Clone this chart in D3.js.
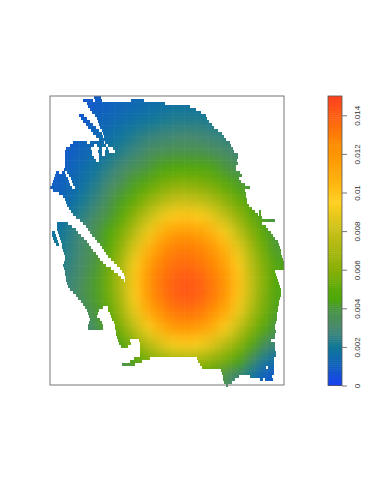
<!DOCTYPE html>
<html>
<head>
<meta charset="utf-8">
<style>
body { margin: 0; background: #fff; }
svg { display: block; }
.axis text { font-family: "Liberation Sans", sans-serif; font-size: 8px; fill: #333; }
.axis path, .axis line { stroke: #777; }
</style>
<script src="https://cdnjs.cloudflare.com/ajax/libs/d3/7.8.5/d3.min.js"></script>
</head>
<body>
<script>
// surface values, in units of 0.0001, one row per 16 km going south
var surface = [
[3,6,7,9,10,12,13,15,16,17,18,17,16,15,13,11,9,7],
[4,6,8,11,13,15,17,19,21,23,23,23,21,20,17,14,12,9],
[6,8,11,13,16,19,23,26,28,29,30,29,28,26,23,19,15,12],
[7,9,12,15,20,24,28,32,35,37,37,37,34,32,29,25,20,15],
[8,11,15,19,25,30,35,40,44,46,47,46,44,40,35,31,26,21],
[9,13,17,23,30,36,43,50,56,60,61,59,56,50,43,37,31,25],
[11,15,21,27,35,43,52,62,71,78,79,77,71,62,53,44,36,30],
[14,20,25,32,40,50,63,77,89,97,99,96,88,77,64,52,42,34],
[18,24,30,36,45,58,74,90,106,115,117,114,105,93,77,60,47,37],
[20,25,31,38,50,65,85,104,120,128,130,127,119,105,88,69,53,41],
[22,26,32,40,54,71,93,113,128,134,136,133,126,114,96,74,58,44],
[24,28,34,42,56,74,98,118,132,139,142,139,131,119,100,78,59,45],
[24,28,36,42,55,73,96,117,131,139,142,139,131,118,99,77,58,44],
[20,25,32,40,51,69,89,108,123,131,133,131,122,109,91,71,55,43],
[15,21,28,35,45,59,77,93,107,117,119,116,107,94,78,61,47,36],
[11,16,24,31,39,48,61,74,86,94,97,94,86,75,63,48,34,28],
[9,13,19,26,33,38,48,57,64,70,71,69,63,57,45,32,22,16],
[8,12,17,22,28,32,37,42,47,50,51,49,46,34,28,20,9,8]
];
var cellW = 13, cellH = 16;
var colourStops = [0, 0.001, 0.002, 0.003, 0.004, 0.0045, 0.005, 0.006, 0.008, 0.0095, 0.011, 0.0125, 0.015];
var colourRange = ["#1a3ff5", "#1060c0", "#107898", "#4a8a70", "#4a9640", "#4ea80a", "#5aaa08", "#88b008", "#c8c018", "#ffd020", "#ffa808", "#ff8c00", "#ff4020"];
var legendTicks = [0, 0.002, 0.004, 0.006, 0.008, 0.01, 0.012, 0.014];

// land cells per row (every 3 km from the top of the frame): pairs of west, east
var land = [
[44,51],[33,43,45,52,81,94],[37,115],[38,140],[40,146],[42,151],[29,34,45,156],[31,37,47,157],
[33,40,48,159],[36,43,49,162],[38,46,50,164],[41,49,52,168],[43,52,53,172],[46,53,54,174],[49,176],
[23,37,40,54,55,180],[20,44,47,56,58,181],[16,41,49,52,56,58,63,183],[15,42,48,52,55,59,65,184],
[15,42,49,52,55,188],[15,44,49,188],[15,46,49,187],[15,188],[15,186],[14,186],[6,9,12,15,17,190],
[5,16,19,192],[4,18,21,189],[3,19,22,191],[2,20,23,195],[0,22,25,200],[3,195],[9,196],[13,196],
[15,197],[16,197],[17,199],[19,202],[21,205,209,211],[23,208,209,211],[26,212],[30,225],
[7,18,33,212],[7,22,36,216],[7,26,38,218],[2,5,8,28,40,221],[2,6,9,31,42,223],[3,7,10,34,45,225],
[4,8,11,37,47,228],[6,9,12,39,50,229],[12,41,52,230],[13,43,54,231],[14,46,56,231],[15,48,58,232],
[15,50,61,233],[14,53,64,234],[13,56,67,234],[14,61,70,234],[15,64,72,225],[15,68,74,226],
[16,71,75,227],[16,74,75,228],[17,229],[18,230],[20,231],[23,231],[26,231],[28,230],[31,229],
[33,229],[35,53,58,228],[37,49,58,228],[38,48,60,227],[39,47,61,227],[40,50,62,227],[39,52,64,226],
[38,53,65,225],[38,53,65,225],[66,226],[66,225],[67,225],[68,80,89,221],[69,81,90,225],[71,78,90,225],
[90,225],[90,226],[90,226],[84,100,147,224],[80,92,148,224],[72,85,150,224],[152,216,218,224],
[171,224],[172,224],[173,189,200,222],[173,185,210,213,215,223],[174,182],[176,178]
];

var margin = {top: 96, left: 50},
    width = 234,
    height = 289;

var svg = d3.select("body").append("svg")
    .attr("width", 374)
    .attr("height", 491);

var x = d3.scaleLinear().domain([0, 234]).range([0, width]);
var y = d3.scaleLinear().domain([0, 289]).range([0, height]);
var color = d3.scaleLinear().domain(colourStops).range(colourRange).interpolate(d3.interpolateRgb);

var defs = svg.append("defs");

var blur = defs.append("filter")
    .attr("id", "smooth")
    .attr("filterUnits", "userSpaceOnUse")
    .attr("x", -40).attr("y", -40).attr("width", width + 80).attr("height", height + 80)
    .attr("color-interpolation-filters", "sRGB");
blur.append("feGaussianBlur").attr("stdDeviation", "6 7");

// flatten the land rows into rects for the clip
var spans = [];
land.forEach(function(row, i) {
    for (var k = 0; k < row.length; k += 2) {
        spans.push({row: i, west: row[k], east: row[k + 1]});
    }
});

defs.append("clipPath").attr("id", "land")
    .selectAll("rect")
    .data(spans)
    .enter().append("rect")
      .attr("x", function(d) { return x(d.west); })
      .attr("y", function(d) { return y(d.row * 3); })
      .attr("width", function(d) { return x(d.east) - x(d.west); })
      .attr("height", y(3));

var plot = svg.append("g")
    .attr("transform", "translate(" + margin.left + "," + margin.top + ")");

var cells = [];
surface.forEach(function(row, j) {
    row.forEach(function(v, i) {
        cells.push({i: i, j: j, value: v * 0.0001});
    });
});

var landLayer = plot.append("g")
    .attr("clip-path", "url(#land)");

// outer cells run past the frame so the blur does not fade at the edge
landLayer.append("g")
    .attr("filter", "url(#smooth)")
    .selectAll("rect")
    .data(cells)
    .enter().append("rect")
      .attr("x", function(d) { return d.i == 0 ? -40 : x(d.i * cellW); })
      .attr("y", function(d) { return d.j == 0 ? -40 : y(d.j * cellH); })
      .attr("width", function(d) {
          return d.i == 0 ? x(cellW) + 40 : d.i == surface[0].length - 1 ? x(cellW) + 40 : x(cellW) + 0.5;
      })
      .attr("height", function(d) {
          return d.j == 0 ? y(cellH) + 40 : d.j == surface.length - 1 ? y(cellH) + 40 : y(cellH) + 0.5;
      })
      .attr("fill", function(d) { return color(d.value); });

// faint mesh the raster leaves in the picture
landLayer.append("g").selectAll("line")
    .data(d3.range(6, width, 11.7))
    .enter().append("line")
      .attr("x1", function(d) { return d; }).attr("x2", function(d) { return d; })
      .attr("y1", 0).attr("y2", height)
      .attr("stroke", "#fff").attr("stroke-opacity", 0.04);
landLayer.append("g").selectAll("line")
    .data(d3.range(6, height, 11.7))
    .enter().append("line")
      .attr("y1", function(d) { return d; }).attr("y2", function(d) { return d; })
      .attr("x1", 0).attr("x2", width)
      .attr("stroke", "#fff").attr("stroke-opacity", 0.04);

plot.append("rect")
    .attr("x", 0).attr("y", 0)
    .attr("width", width).attr("height", height)
    .attr("fill", "none")
    .attr("stroke", "#777");

// colour key
var legendX = 328, legendW = 14;
var legendY = d3.scaleLinear().domain([0, 0.015]).range([385.5, 96]);
var legend = svg.append("g");

legend.selectAll("rect")
    .data(d3.range(0, 0.015, 0.0001))
    .enter().append("rect")
      .attr("x", legendX)
      .attr("y", function(d) { return legendY(d + 0.0001); })
      .attr("width", legendW)
      .attr("height", function(d) { return legendY(d) - legendY(d + 0.0001) + 0.5; })
      .attr("fill", function(d) { return color(d + 0.00005); });

legend.append("rect")
    .attr("x", legendX).attr("y", legendY(0.015))
    .attr("width", legendW).attr("height", legendY(0) - legendY(0.015))
    .attr("fill", "none")
    .attr("stroke", "#555")
    .attr("stroke-width", 0.8);

var axis = legend.append("g")
    .attr("class", "axis")
    .attr("transform", "translate(" + (legendX + legendW) + ",0)")
    .call(d3.axisRight(legendY).tickValues(legendTicks).tickSize(5).tickFormat(function(d) { return d3.format("~g")(d); }));

axis.select(".domain").remove();
axis.selectAll("text")
    .attr("transform", "rotate(-90)")
    .attr("y", 17.5)
    .attr("x", 0)
    .attr("dy", 0)
    .attr("text-anchor", "middle");
</script>
</body>
</html>
